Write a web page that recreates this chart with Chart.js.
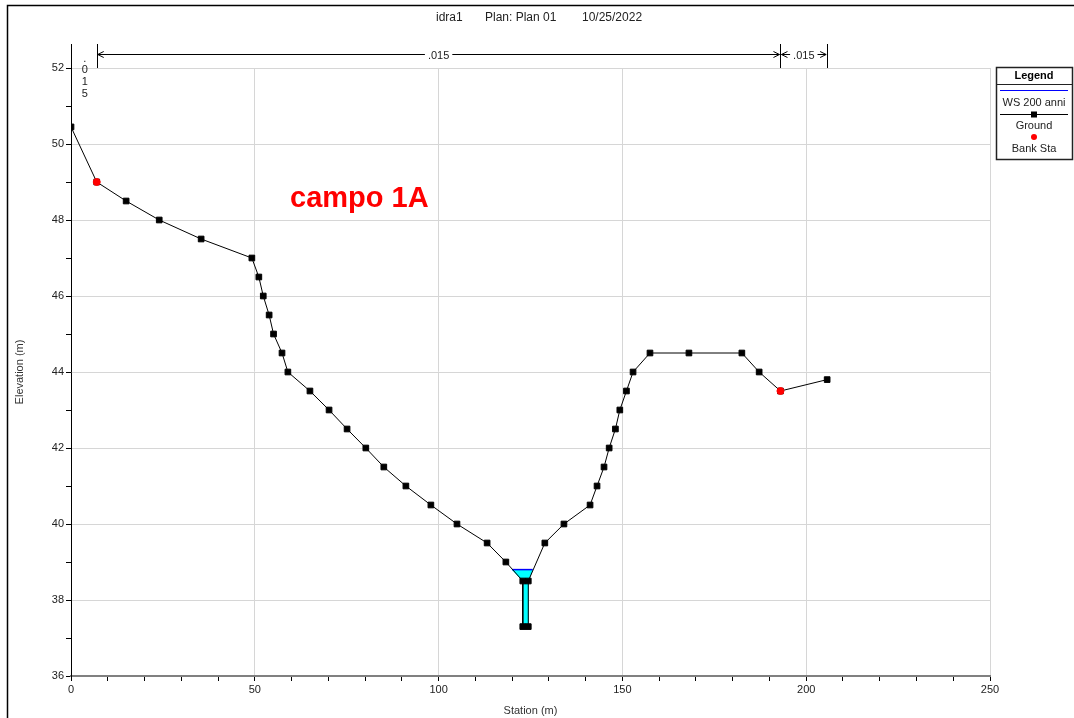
<!DOCTYPE html>
<html>
<head>
<meta charset="utf-8">
<script src="https://cdn.jsdelivr.net/npm/chart.js@4.4.1/dist/chart.umd.min.js"></script>
<style>
  body { margin: 0; background: #fff; }
  #wrap { width: 1074px; height: 718px; }
</style>
</head>
<body>
<div id="wrap"><canvas id="grafica" width="1074" height="718"></canvas></div>
<script>
// Sezione trasversale - Ground
const stazioni = [0, 7, 15, 24, 35.4, 49.2, 51.1, 52.3, 53.9, 55.1, 57.4, 59, 65, 70.2, 75.1, 80.2, 85.1, 91.1, 97.9, 105, 113.2, 118.3, 122.9, 122.9, 124.4, 124.4, 128.9, 134.1, 141.2, 143.1, 145, 146.4, 148.1, 149.3, 151.1, 152.9, 157.5, 168.1, 182.5, 187.2, 193, 205.7];
const quote = [50.45, 49.0, 48.5, 48.0, 47.5, 47.0, 46.5, 46.0, 45.5, 45.0, 44.5, 44.0, 43.5, 43.0, 42.5, 42.0, 41.5, 41.0, 40.5, 40.0, 39.5, 39.0, 38.5, 37.3, 37.3, 38.5, 39.5, 40.0, 40.5, 41.0, 41.5, 42.0, 42.5, 43.0, 43.5, 44.0, 44.5, 44.5, 44.5, 44.0, 43.5, 43.8];

// Bank Sta
const bankX = [7, 193];
const bankY = [49.0, 43.5];

// WS 200 anni (area bagnata)
const wsX = [120.0, 122.9, 122.9, 124.4, 124.4, 125.6];
const wsY = [38.8, 38.5, 37.3, 37.3, 38.5, 38.8];
const wsQuota = 38.8;

// Manning n
const nLimiti = [0, 7, 193, 205.7];
const nValori = ['.015', '.015', '.015'];

const titoloParti = ['idra1', 'Plan: Plan 01', '10/25/2022'];
const etichetta = 'campo 1A';

function punti(xs, ys) {
    return xs.map((x, i) => ({ x: x, y: ys[i] }));
}

const FONT = '"Liberation Sans", Arial, sans-serif';

function freccia(ctx, x, y, dir) {
    ctx.beginPath();
    ctx.moveTo(x + dir * 6, y - 3);
    ctx.lineTo(x, y);
    ctx.lineTo(x + dir * 6, y + 3);
    ctx.stroke();
}

const decorazioni = {
    id: 'decorazioni',
    afterDraw(chart) {
        const ctx = chart.ctx;
        const xs = chart.scales.x;
        const area = chart.chartArea;
        ctx.save();

        // cornice
        ctx.strokeStyle = '#000';
        ctx.lineWidth = 1.5;
        ctx.beginPath();
        ctx.moveTo(7.5, 718);
        ctx.lineTo(7.5, 5.5);
        ctx.lineTo(1074, 5.5);
        ctx.stroke();

        // titolo
        ctx.fillStyle = '#222';
        ctx.font = '12px ' + FONT;
        ctx.textBaseline = 'middle';
        ctx.textAlign = 'left';
        ctx.fillText(titoloParti[0], 436, 18);
        ctx.fillText(titoloParti[1], 485, 18);
        ctx.fillText(titoloParti[2], 582, 18);

        // asse y prolungato
        ctx.strokeStyle = '#000';
        ctx.lineWidth = 1;
        ctx.beginPath();
        ctx.moveTo(Math.round(area.left) + 0.5, 44);
        ctx.lineTo(Math.round(area.left) + 0.5, area.top);
        ctx.stroke();

        // Manning n
        const yN = 54.5;
        ctx.font = '11px ' + FONT;
        for (let i = 1; i < nLimiti.length; i++) {
            const px = Math.round(xs.getPixelForValue(nLimiti[i])) + 0.5;
            ctx.beginPath();
            ctx.moveTo(px, 44);
            ctx.lineTo(px, area.top);
            ctx.stroke();
        }
        for (let i = 0; i < nValori.length; i++) {
            const a = xs.getPixelForValue(nLimiti[i]);
            const b = xs.getPixelForValue(nLimiti[i + 1]);
            const c = (a + b) / 2;
            if (b - a < 40) {
                // testo verticale
                ctx.textAlign = 'center';
                const chars = nValori[i].split('');
                chars.forEach((ch, k) => {
                    ctx.fillText(ch, c + 1, (k === 0 ? 59 : 58) + k * 12);
                });
                continue;
            }
            const w = ctx.measureText(nValori[i]).width + 6;
            ctx.beginPath();
            ctx.moveTo(a + 1, yN);
            ctx.lineTo(c - w / 2, yN);
            ctx.moveTo(c + w / 2, yN);
            ctx.lineTo(b - 1, yN);
            ctx.stroke();
            freccia(ctx, a + 1, yN, 1);
            freccia(ctx, b - 1, yN, -1);
            ctx.textAlign = 'center';
            ctx.fillText(nValori[i], c, yN + 1);
        }

        // titoli assi
        ctx.fillStyle = '#333';
        ctx.font = '11px ' + FONT;
        ctx.textAlign = 'center';
        ctx.fillText('Station (m)', (area.left + area.right) / 2, 711);
        ctx.save();
        ctx.translate(20, (area.top + area.bottom) / 2);
        ctx.rotate(-Math.PI / 2);
        ctx.fillText('Elevation (m)', 0, 0);
        ctx.restore();

        // etichetta
        ctx.fillStyle = '#ff0000';
        ctx.font = 'bold 29px ' + FONT;
        ctx.textAlign = 'left';
        ctx.textBaseline = 'alphabetic';
        ctx.fillText(etichetta, 290, 207);

        // legenda
        const L = 996, T = 67, R = 1072, B = 159;
        const cx = (L + R) / 2;
        ctx.fillStyle = '#fff';
        ctx.fillRect(L, T, R - L, B - T);
        ctx.strokeStyle = '#222';
        ctx.lineWidth = 1.5;
        ctx.strokeRect(L + 0.5, T + 0.5, R - L, B - T);
        ctx.lineWidth = 1;
        ctx.beginPath();
        ctx.moveTo(L, 84.5);
        ctx.lineTo(R, 84.5);
        ctx.stroke();
        ctx.textBaseline = 'middle';
        ctx.textAlign = 'center';
        ctx.fillStyle = '#000';
        ctx.font = 'bold 11px ' + FONT;
        ctx.fillText('Legend', cx, 76);
        ctx.font = '11px ' + FONT;
        ctx.fillStyle = '#222';
        ctx.strokeStyle = '#0000ff';
        ctx.beginPath();
        ctx.moveTo(L + 4, 90.5);
        ctx.lineTo(R - 4, 90.5);
        ctx.stroke();
        ctx.fillText('WS 200 anni', cx, 103);
        ctx.strokeStyle = '#000';
        ctx.beginPath();
        ctx.moveTo(L + 4, 114.5);
        ctx.lineTo(R - 4, 114.5);
        ctx.stroke();
        ctx.fillStyle = '#000';
        ctx.fillRect(cx - 3, 111.5, 6, 6);
        ctx.fillStyle = '#222';
        ctx.fillText('Ground', cx, 126);
        ctx.fillStyle = '#ff0000';
        ctx.beginPath();
        ctx.arc(cx, 137, 3, 0, Math.PI * 2);
        ctx.fill();
        ctx.fillStyle = '#222';
        ctx.fillText('Bank Sta', cx, 149);

        ctx.restore();
    }
};

let chart = new Chart(document.getElementById('grafica'), {
    type: 'scatter',
    data: {
        datasets: [
            {
                label: 'Bank Sta',
                data: punti(bankX, bankY),
                showLine: false,
                pointStyle: 'circle',
                pointRadius: 3.5,
                pointBackgroundColor: '#ff0000',
                pointBorderColor: '#ff0000',
                order: 0
            },
            {
                label: 'Ground',
                data: punti(stazioni, quote),
                showLine: true,
                borderColor: '#000000',
                borderWidth: 1,
                pointStyle: 'rect',
                pointRadius: 4,
                pointBackgroundColor: '#000000',
                pointBorderColor: '#000000',
                tension: 0,
                order: 1
            },
            {
                label: 'WS 200 anni',
                data: punti([wsX[0], wsX[wsX.length - 1]], [wsQuota, wsQuota]),
                showLine: true,
                borderColor: '#0000ff',
                borderWidth: 1.5,
                pointRadius: 0,
                order: 2
            },
            {
                label: 'area',
                data: punti(wsX, wsY),
                showLine: true,
                borderColor: '#00e5ee',
                borderWidth: 1,
                backgroundColor: '#00ffff',
                fill: 'shape',
                pointRadius: 0,
                tension: 0,
                order: 3
            }
        ]
    },
    options: {
        responsive: false,
        animation: false,
        layout: { padding: { top: 68, right: 84, left: 0, bottom: 0 } },
        plugins: {
            legend: { display: false },
            tooltip: { enabled: false }
        },
        scales: {
            x: {
                type: 'linear',
                min: 0,
                max: 250,
                afterFit: s => { s.height = 42; },
                border: { display: true, color: '#808080', width: 2 },
                grid: {
                    color: c => (c.tick && c.tick.value % 50 === 0) ? '#d6d6d6' : 'rgba(0,0,0,0)',
                    tickColor: '#000',
                    tickLength: 5
                },
                ticks: {
                    stepSize: 10,
                    autoSkip: false,
                    maxRotation: 0,
                    color: '#222',
                    padding: 2,
                    font: { family: FONT, size: 11 },
                    callback: v => (v % 50 === 0 ? v : '')
                }
            },
            y: {
                type: 'linear',
                min: 36,
                max: 52,
                afterFit: s => { s.width = 71; },
                border: { display: true, color: '#000', width: 1 },
                grid: {
                    color: c => (c.tick && c.tick.value % 2 === 0) ? '#d6d6d6' : 'rgba(0,0,0,0)',
                    tickColor: '#000',
                    tickLength: 5
                },
                ticks: {
                    stepSize: 1,
                    autoSkip: false,
                    color: '#222',
                    padding: 2,
                    font: { family: FONT, size: 11 },
                    callback: v => (v % 2 === 0 ? v : '')
                }
            }
        }
    },
    plugins: [decorazioni]
});
</script>
</body>
</html>
